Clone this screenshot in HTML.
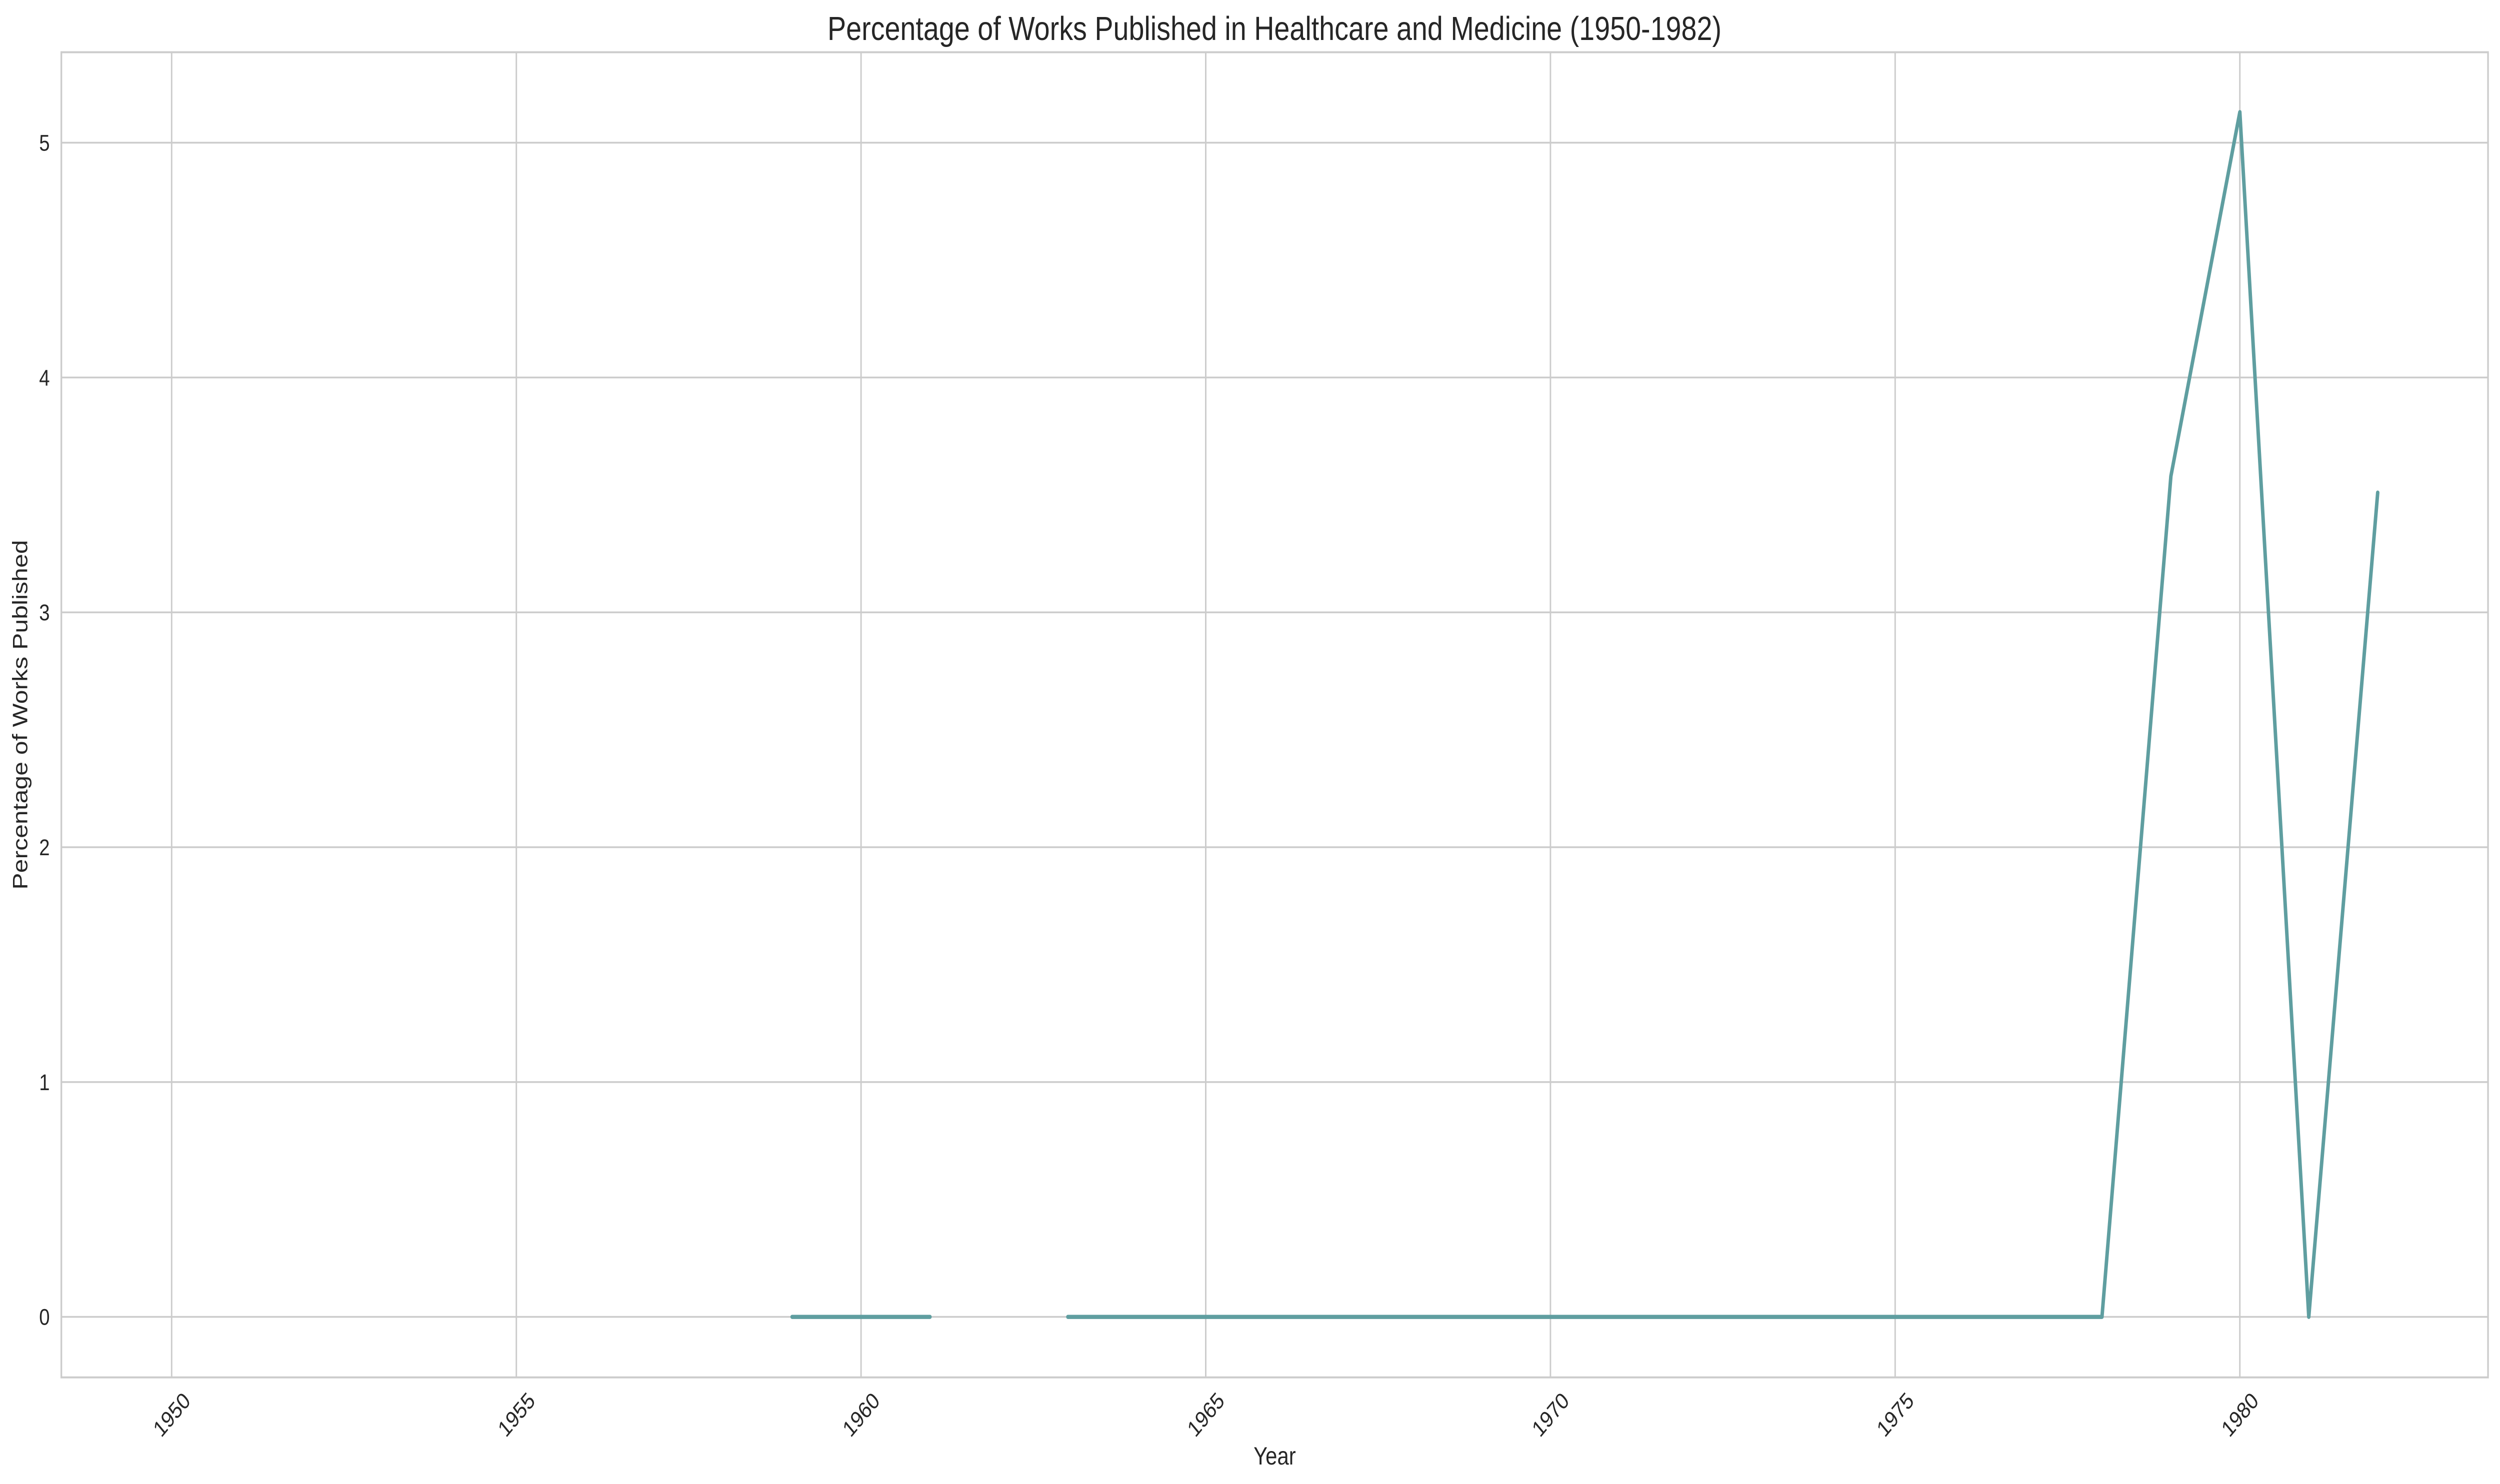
<!DOCTYPE html>
<html lang="en">
<head>
<meta charset="utf-8">
<title>Percentage of Works Published in Healthcare and Medicine (1950-1982)</title>
<style>
html,body{margin:0;padding:0;background:#fff;width:100%;height:100%;overflow:hidden}
svg{display:block;position:fixed;left:0;top:0;width:100vw;height:100vh}
text{font-family:"Liberation Sans",Arial,sans-serif;fill:#262626}
</style>
</head>
<body>
<svg id="chart" xmlns="http://www.w3.org/2000/svg" viewBox="0 0 5971 2969" preserveAspectRatio="none">
  <rect x="0" y="0" width="5971" height="2969" fill="#ffffff"/>
  <g id="grid"></g>
  <g id="series"></g>
  <g id="spines"></g>
  <g id="xticks"></g>
  <g id="yticks"></g>
  <text x="3044" y="80" text-anchor="middle" font-size="66.5">Percentage of Works Published in Healthcare and Medicine (1950-1982)</text>
  <text x="3044.5" y="2930" text-anchor="middle" font-size="50">Year</text>
  <text transform="translate(65 1430) rotate(-90)" text-anchor="middle" font-size="50">Percentage of Works Published</text>
</svg>
<script>
const years = [1950,1951,1952,1953,1954,1955,1956,1957,1958,1959,1960,1961,1962,1963,1964,1965,1966,1967,1968,1969,1970,1971,1972,1973,1974,1975,1976,1977,1978,1979,1980,1981,1982];
const percentages = [null,null,null,null,null,null,null,null,null,0,0,0,null,0,0,0,0,0,0,0,0,0,0,0,0,0,0,0,0,3.58,5.13,0,3.51];
const xTickLabels = [1950,1955,1960,1965,1970,1975,1980];
const yTickLabels = [0,1,2,3,4,5];

const NS = 'http://www.w3.org/2000/svg';
const plotLeft = 146.5, plotRight = 5942.4, plotTop = 104.5, plotBottom = 2755.7;
const xDomainMin = 1948.4, xDomainMax = 1983.6;
const yDomainMin = -0.2576, yDomainMax = 5.3851;

function xScale(v){ return plotLeft + (v - xDomainMin) / (xDomainMax - xDomainMin) * (plotRight - plotLeft); }
function yScale(v){ return plotBottom - (v - yDomainMin) / (yDomainMax - yDomainMin) * (plotBottom - plotTop); }

const gridGroup = document.getElementById('grid');
const seriesGroup = document.getElementById('series');
const spineGroup = document.getElementById('spines');
const xTickGroup = document.getElementById('xticks');
const yTickGroup = document.getElementById('yticks');

xTickLabels.forEach(function(t){
  const x = xScale(t);
  const line = document.createElementNS(NS, 'line');
  
  
  line.setAttribute('x1', x); line.setAttribute('x2', x);
  line.setAttribute('y1', plotTop); line.setAttribute('y2', plotBottom);
  line.setAttribute('stroke', '#cccccc'); line.setAttribute('stroke-width', '3.5');
  gridGroup.appendChild(line);

  const label = document.createElementNS(NS, 'text');
  
  
  label.setAttribute('x', x); label.setAttribute('y', 2830 + 16);
  label.setAttribute('text-anchor', 'middle');
  label.setAttribute('font-size', '45.83');
  label.setAttribute('transform', 'rotate(-45 ' + x + ' 2830)');
  label.textContent = String(t);
  xTickGroup.appendChild(label);
});

yTickLabels.forEach(function(t){
  const y = yScale(t);
  const line = document.createElementNS(NS, 'line');
  
  
  line.setAttribute('x1', plotLeft); line.setAttribute('x2', plotRight);
  line.setAttribute('y1', y); line.setAttribute('y2', y);
  line.setAttribute('stroke', '#cccccc'); line.setAttribute('stroke-width', '3.5');
  gridGroup.appendChild(line);

  const label = document.createElementNS(NS, 'text');
  
  
  label.setAttribute('x', 119); label.setAttribute('y', y + 16);
  label.setAttribute('text-anchor', 'end');
  label.setAttribute('font-size', '45.83');
  label.textContent = String(t);
  yTickGroup.appendChild(label);
});

let pathData = '';
let penDown = false;
years.forEach(function(yr, i){
  const v = percentages[i];
  if (v === null) { penDown = false; return; }
  pathData += (penDown ? 'L' : 'M') + xScale(yr).toFixed(2) + ' ' + yScale(v).toFixed(2);
  penDown = true;
});
const seriesLine = document.createElementNS(NS, 'path');


seriesLine.setAttribute('d', pathData);
seriesLine.setAttribute('fill', 'none');
seriesLine.setAttribute('stroke', '#5f9ea0');
seriesLine.setAttribute('stroke-width', '8.33');
seriesLine.setAttribute('stroke-linecap', 'round');
seriesLine.setAttribute('stroke-linejoin', 'round');
seriesGroup.appendChild(seriesLine);

const frame = document.createElementNS(NS, 'rect');


frame.setAttribute('x', plotLeft);
frame.setAttribute('y', plotTop);
frame.setAttribute('width', plotRight - plotLeft);
frame.setAttribute('height', plotBottom - plotTop);
frame.setAttribute('fill', 'none');
frame.setAttribute('stroke', '#cccccc');
frame.setAttribute('stroke-width', '4');
spineGroup.appendChild(frame);
</script>
</body>
</html>
